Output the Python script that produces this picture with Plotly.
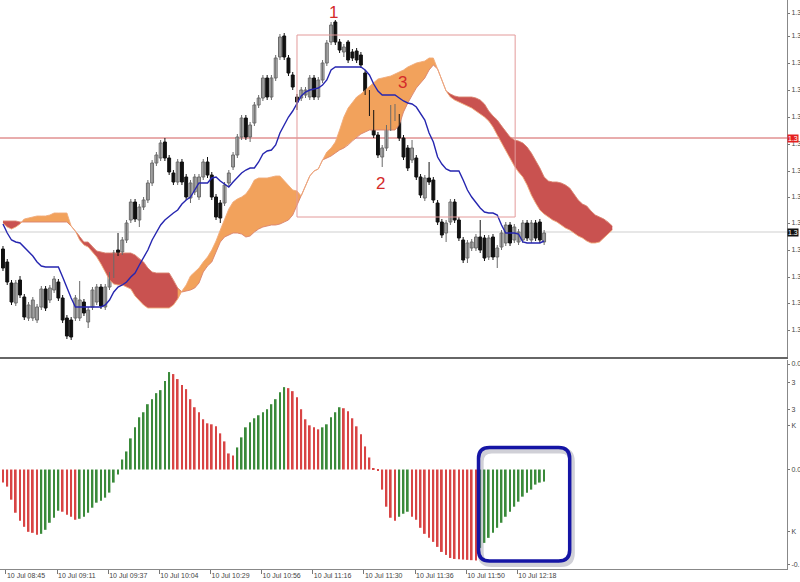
import plotly.graph_objects as go

BASE = 1.36000      # price level that the point offsets below are measured from
POINT = 0.00001     # one point

time_labels = ["10 Jul 08:45", "10 Jul 09:11", "10 Jul 09:37", "10 Jul 10:04", "10 Jul 10:29",
               "10 Jul 10:56", "10 Jul 11:16", "10 Jul 11:30", "10 Jul 11:36", "10 Jul 11:50",
               "10 Jul 12:18"]
BARS_PER_LABEL = 12

# candles (points above 1.36000)
open_pts = [108,95,74,54,77,60,39,39,37,50, 68,57,67,75,59,39,37,39,39,55,
            35,50,55,70,50,70,82,107,105,117, 137,155,137,150,157,174,194,199,215,199,
            184,175,195,180,159,165,160,180,195,182, 160,154,154,174,190,202,220,239,220,234,
            252,259,279,260,279,300,321,299,282,260, 259,262,260,279,260,277,294,315,335,315,
            305,315,305,306,302,284,264,244,222,200, 209,229,239,240,219,209,197,199,180,159,
            179,177,154,135,124,135,155,137,117,99, 109,109,120,119,100,120,100,110,114,132,
            117,115,117,134,117,134,135,115]
high_pts = [111,98,77,77,81,63,55,60,53,71, 71,72,81,78,62,42,40,62,76,58,
            50,70,73,73,73,85,107,124,120,137, 158,158,153,160,177,197,205,217,219,202,
            187,198,198,183,177,183,183,198,200,185, 163,157,175,187,205,223,242,242,235,255,
            262,282,282,282,302,323,324,302,285,263, 270,270,282,282,280,297,317,335,337,318,
            313,317,308,309,305,287,267,247,225,212, 232,252,253,243,222,212,217,202,183,182,
            195,180,157,138,137,158,158,140,120,117, 118,123,137,122,122,123,112,127,135,135,
            133,128,137,137,137,137,138,127]
low_pts = [86,72,52,51,59,37,36,36,34,47, 46,54,64,56,34,18,17,36,36,41,
           29,47,52,48,47,67,79,101,102,114, 134,135,130,147,154,171,191,196,196,182,
           172,172,172,157,154,162,157,177,179,157, 137,134,151,171,187,199,217,217,215,231,
           249,256,257,257,276,297,297,281,267,247, 256,259,257,257,257,274,291,312,312,304,
           300,294,296,294,289,262,241,219,199,190, 206,226,236,216,197,186,194,177,159,156,
           172,154,132,119,115,132,134,116,94,94, 106,106,104,96,97,97,89,107,111,111,
           114,112,114,116,114,116,114,112]
close_pts = [89,75,55,74,62,40,52,57,50,68, 49,69,78,59,37,21,20,59,57,44,
             47,67,70,51,70,82,104,104,117,134, 155,138,150,157,174,194,202,214,199,185,
             175,195,175,160,174,180,180,195,182,160, 140,139,172,184,202,220,239,220,232,252,
             259,279,260,279,299,320,300,284,270,255, 267,267,279,260,277,294,314,332,315,307,
             310,297,299,297,292,265,244,222,202,209, 229,249,250,219,200,189,209,180,162,179,
             175,157,135,122,134,155,137,119,97,114, 115,120,107,99,119,100,109,124,132,114,
             130,125,134,119,134,119,117,124]

# blue line (kijun)
kijun_pts = [133,124,117,115,114,110,106,101,95,91, 90,90,90,90,80,69,59,50,50,50,
             50,50,50,50,52,57,65,70,72,75, 80,84,92,99,107,117,125,132,137,141,
             144,147,153,157,160,167,174,174,174,179, 180,176,173,170,175,180,184,187,189,189,
             195,203,206,207,212,224,232,240,246,253, 261,265,267,268,269,272,277,287,290,290,
             290,290,290,290,290,287,282,273,266,262, 262,262,262,259,256,254,253,250,244,237,
             224,215,200,193,188,186,186,186,177,167, 160,154,149,145,144,144,142,132,124,124,
             124,123,115,114,114,114,114,116]

# cloud spans (run 16 bars past the last candle)
span_a_pts = [134,130,128,130,133,138,139,140,141,141, 141,142,144,144,144,144,131,126,117,112,
              110,105,100,93,85,77,73,72,72,70, 68,61,56,52,49,49,49,49,49,49,
              52,58,66,72,81,85,89,95,100,107, 116,127,138,148,155,158,160,163,169,177,
              179,179,179,180,181,181,176,171,167,166, 161,171,181,186,188,197,205,209,215,227,
              240,249,254,260,263,267,271,275,278,279, 280,281,283,285,287,290,292,294,295,296,
              299,299,288,277,266,260,257,255,253,251, 249,246,243,240,236,230,222,214,207,199,
              191,185,180,172,162,154,147,143,140,137, 135,132,129,127,124,121,119,116,114,114,
              115,119,122,127]
span_b_pts = [136,136,136,136,135,135,135,135,135,135, 135,135,135,135,135,135,131,126,121,115,
              115,110,106,105,104,104,104,104,104,104, 104,102,98,95,89,85,84,84,84,84,
              77,69,65,66,67,69,74,85,91,95, 105,115,120,122,124,124,123,120,121,125,
              128,130,131,132,132,133,135,137,142,152, 161,171,181,186,188,197,199,201,204,207,
              209,212,216,220,223,225,227,227,227,227, 227,227,227,232,245,254,262,269,274,279,
              287,292,288,277,266,263,261,260,260,260, 260,259,257,253,246,241,237,231,226,220,
              217,216,214,210,204,197,189,180,176,175, 175,174,172,169,163,157,153,151,146,142,
              140,138,135,131]

# oscillator histogram (points)
osc_pts = [-13,-17,-30,-43,-51,-57,-62,-63,-65,-64, -60,-53,-48,-41,-42,-45,-47,-50,-49,-47,
           -43,-38,-33,-31,-28,-23,-13,-5,10,18, 31,42,52,57,65,70,76,79,88,97,
           95,90,84,80,70,62,57,50,46,45, 43,36,28,16,14,22,32,42,47,51,
           54,57,60,65,70,77,82,81,78,72, 60,50,44,42,40,42,45,52,57,62,
           61,58,51,43,35,23,12,1,-1,-20, -37,-48,-51,-47,-44,-42,-47,-50,-58,-64,
           -68,-72,-77,-82,-85,-88,-89,-89.3,-89.6,-89.9, -90.2,-90.5,-78,-73,-68,-63,-58,-53,-47,-42,
           -37,-32,-27,-23,-20,-15,-13,-12]

price_ticks_pts = [344, 321, 294, 267, 240, 213, 186, 160, 134, 107, 80, 54, 27]
osc_ticks_pts = [105, 87, 60, 44, 0, -62, -95]
osc_tick_text = ["0.0", "3", "3", "K", "0.0", "K", "-0."]

level_red_pts = 219
bid_pts = 125

labels_text = ["1", "2", "3"]
labels_bar = [77.5, 88.7, 93.7]
labels_pts = [345, 174, 275]

box_bars = [69.0, 120.2]
box_pts = [140, 322]
hl_bars = [111.6, 133.0]
hl_osc_pts = [-91, 22]

def px(v):
    return BASE + v * POINT

n = len(open_pts)
xi = list(range(n))
m = len(span_a_pts)

ORANGE = "#f2a25c"
CRED = "#c95250"
GREEN = "#3a8a3a"
HRED = "#d84444"

fig = go.Figure()

# ---- cloud: one filled polygon per run of same-sign bars
signs = []
for a, b in zip(span_a_pts, span_b_pts):
    if a > b:
        signs.append(1)
    elif a < b:
        signs.append(-1)
    else:
        signs.append(signs[-1] if signs else 1)
runs = []
start = 0
for i in range(1, m + 1):
    if i == m or signs[i] != signs[start]:
        runs.append((start, i - 1, signs[start]))
        start = i
for s, e, sg in runs:
    lo = max(s - 1, 0) if s > 0 else s
    hi = min(e + 1, m - 1)
    idx = list(range(lo, hi + 1))
    xs = idx + idx[::-1]
    ys = [px(span_a_pts[i]) for i in idx] + [px(span_b_pts[i]) for i in idx[::-1]]
    fig.add_trace(go.Scatter(x=xs, y=ys, mode="lines", fill="toself",
                             fillcolor=ORANGE if sg > 0 else CRED,
                             line=dict(width=0), xaxis="x", yaxis="y", hoverinfo="skip"))
fig.add_trace(go.Scatter(x=list(range(m)), y=[px(v) for v in span_b_pts], mode="lines",
                         line=dict(color="#d9826e", width=0.9), xaxis="x", yaxis="y"))
fig.add_trace(go.Scatter(x=list(range(m)), y=[px(v) for v in span_a_pts], mode="lines",
                         line=dict(color="#f0ac7c", width=0.9), xaxis="x", yaxis="y"))

# ---- candles: wicks + bodies
for bull, col in [(True, "#6a6a6a"), (False, "#111111")]:
    wx, wy = [], []
    for i in xi:
        if (close_pts[i] >= open_pts[i]) == bull:
            wx += [i, i, None]
            wy += [px(low_pts[i]), px(high_pts[i]), None]
    fig.add_trace(go.Scatter(x=wx, y=wy, mode="lines", line=dict(color=col, width=1),
                             xaxis="x", yaxis="y", hoverinfo="skip"))
for bull, fillc, linec in [(True, "#d4d4d4", "#6a6a6a"), (False, "#111111", "#111111")]:
    bx, bb, bh = [], [], []
    for i in xi:
        if (close_pts[i] >= open_pts[i]) == bull:
            bx.append(i)
            bb.append(px(min(open_pts[i], close_pts[i])))
            bh.append(max(abs(close_pts[i] - open_pts[i]), 1) * POINT)
    fig.add_trace(go.Bar(x=bx, y=bh, base=bb, width=0.68,
                         marker=dict(color=fillc, line=dict(color=linec, width=1)),
                         xaxis="x", yaxis="y"))

fig.add_trace(go.Scatter(x=xi, y=[px(v) for v in kijun_pts], mode="lines",
                         line=dict(color="#2626b0", width=1.4), xaxis="x", yaxis="y"))

# ---- oscillator
hcol = [HRED] + [GREEN if osc_pts[i] > osc_pts[i - 1] else HRED for i in range(1, n)]
fig.add_trace(go.Bar(x=xi, y=[v * POINT for v in osc_pts], width=0.42,
                     marker=dict(color=hcol, line=dict(width=0)), xaxis="x2", yaxis="y2"))

shapes = []
shapes.append(dict(type="line", xref="paper", x0=0, x1=1, yref="y", y0=px(level_red_pts), y1=px(level_red_pts),
                   line=dict(color="#d25a5a", width=1), layer="below"))
shapes.append(dict(type="line", xref="paper", x0=0, x1=1, yref="y", y0=px(bid_pts), y1=px(bid_pts),
                   line=dict(color="#cfcfcf", width=1), layer="below"))
shapes.append(dict(type="rect", xref="x", yref="y", x0=box_bars[0], x1=box_bars[1],
                   y0=px(box_pts[0]), y1=px(box_pts[1]), line=dict(color="#e39a9a", width=1)))

def rounded(x0, x1, y0, y1, rx, ry):
    f = lambda v: f"{v:.6f}"
    return (f"M {f(x0+rx)},{f(y1)} L {f(x1-rx)},{f(y1)} Q {f(x1)},{f(y1)} {f(x1)},{f(y1-ry)} "
            f"L {f(x1)},{f(y0+ry)} Q {f(x1)},{f(y0)} {f(x1-rx)},{f(y0)} "
            f"L {f(x0+rx)},{f(y0)} Q {f(x0)},{f(y0)} {f(x0)},{f(y0+ry)} "
            f"L {f(x0)},{f(y1-ry)} Q {f(x0)},{f(y1)} {f(x0+rx)},{f(y1)} Z")

hx0, hx1 = hl_bars
hy0, hy1 = hl_osc_pts[0] * POINT, hl_osc_pts[1] * POINT
shapes.append(dict(type="path", xref="x2", yref="y2",
                   path=rounded(hx0 + 0.5, hx1 + 0.5, hy0 - 3 * POINT, hy1 - 3 * POINT, 2.6, 11 * POINT),
                   line=dict(color="rgba(120,120,140,0.35)", width=6)))
shapes.append(dict(type="path", xref="x2", yref="y2",
                   path=rounded(hx0, hx1, hy0, hy1, 2.6, 11 * POINT),
                   line=dict(color="#1515a5", width=3.5)))

annotations = []
for t, b, p in zip(labels_text, labels_bar, labels_pts):
    annotations.append(dict(x=b, y=px(p), xref="x", yref="y", text=t, showarrow=False,
                            font=dict(family="Liberation Sans, Arial", size=17, color="#d42a2a")))
for lvl, bg in [(level_red_pts, "#e52020"), (bid_pts, "#111111")]:
    annotations.append(dict(x=1, y=px(lvl), xref="paper", yref="y", xanchor="left", yanchor="middle",
                            text=f"{px(lvl):.5f}"[:3], showarrow=False, bgcolor=bg, borderpad=0,
                            font=dict(family="Liberation Sans, Arial", size=7, color="white")))

tickfont = dict(family="Liberation Sans, Arial", size=7, color="#444444")
xr = [-0.7, 184.0]

fig.update_layout(
    template="none",
    width=800, height=582,
    margin=dict(l=0, r=13, t=0, b=13),
    paper_bgcolor="white", plot_bgcolor="white",
    showlegend=False, barmode="overlay",
    shapes=shapes, annotations=annotations,
    xaxis=dict(domain=[0, 1], anchor="y", range=xr, showticklabels=False, ticks="",
               showgrid=False, zeroline=False, showline=True, linecolor="#666666", linewidth=2,
               automargin=False),
    yaxis=dict(domain=[1 - 357 / 569, 1], anchor="x", side="right", range=[px(0), px(357)],
               tickvals=[px(v) for v in price_ticks_pts],
               ticktext=[f"{px(v):.5f}"[:3] for v in price_ticks_pts],
               ticks="outside", ticklen=2, tickcolor="#777777", tickfont=tickfont,
               showgrid=False, zeroline=False, showline=True, linecolor="#888888", linewidth=1,
               automargin=False),
    xaxis2=dict(domain=[0, 1], anchor="y2", range=xr, matches="x",
                tickvals=[k * BARS_PER_LABEL + 0.7 for k in range(len(time_labels))],
                ticktext=time_labels, ticklabelposition="outside right",
                ticks="outside", ticklen=4, tickcolor="#777777", tickfont=tickfont,
                showgrid=False, zeroline=False, showline=True, linecolor="#888888", linewidth=1,
                automargin=False),
    yaxis2=dict(domain=[0, (569 - 360) / 569], anchor="x2", side="right",
                range=[-99 * POINT, 109 * POINT],
                tickvals=[v * POINT for v in osc_ticks_pts], ticktext=osc_tick_text,
                ticks="outside", ticklen=2, tickcolor="#777777", tickfont=tickfont,
                showgrid=False, zeroline=False, showline=True, linecolor="#888888", linewidth=1,
                automargin=False),
)

fig.write_html("out.html", config={"displayModeBar": False},
               post_script="document.body.style.margin='0';document.body.style.overflow='hidden';")
